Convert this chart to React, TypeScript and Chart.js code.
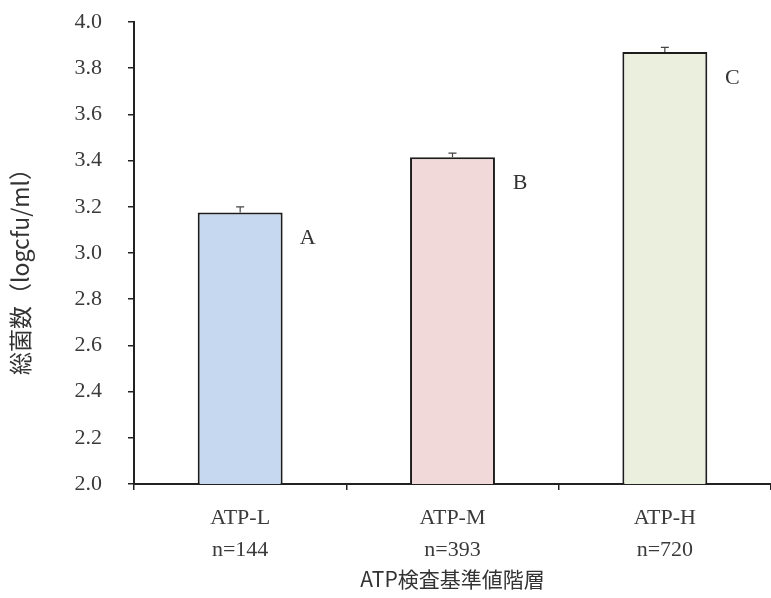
import React, { useEffect, useRef } from "react";
import { Chart, registerables } from "chart.js";

Chart.register(...registerables);

const categories: string[][] = [
  ["ATP-L", "n=144"],
  ["ATP-M", "n=393"],
  ["ATP-H", "n=720"],
];
const means: number[] = [3.175, 3.415, 3.87];
const errors: number[] = [0.025, 0.017, 0.02];
const letters: string[] = ["A", "B", "C"];
const barColors: string[] = ["#c6d8ef", "#f1d9d9", "#ebefdd"];
const yMin = 2.0;
const yMax = 4.0;
const yStep = 0.2;
const yTitle = "総菌数（logcfu/ml）";
const xTitle = "ATP検査基準値階層";

const serif = "'Liberation Serif', 'DejaVu Serif', serif";
const cjk = "'Noto Sans CJK JP', sans-serif";

const errorAndLetters = {
  id: "errorAndLetters",
  afterDatasetsDraw(chart: any) {
    const { ctx, chartArea } = chart;
    const meta = chart.getDatasetMeta(0);
    const yScale = chart.scales.y;
    ctx.save();
    meta.data.forEach((bar: any, i: number) => {
      const top = yScale.getPixelForValue(means[i] + errors[i]);
      ctx.strokeStyle = "#444";
      ctx.lineWidth = 1.2;
      ctx.beginPath();
      ctx.moveTo(bar.x, bar.y);
      ctx.lineTo(bar.x, top);
      ctx.moveTo(bar.x - 4, top);
      ctx.lineTo(bar.x + 4, top);
      ctx.stroke();
      ctx.fillStyle = "#333";
      ctx.font = `22px ${serif}`;
      ctx.textAlign = "center";
      ctx.textBaseline = "middle";
      ctx.fillText(letters[i], bar.x + bar.width / 2 + 25, bar.y + 26);
    });
    ctx.translate(20, (chartArea.top + chartArea.bottom) / 2 + 13);
    ctx.rotate(-Math.PI / 2);
    ctx.font = `23px ${cjk}`;
    ctx.fillStyle = "#333";
    ctx.textAlign = "center";
    ctx.textBaseline = "middle";
    ctx.fillText(yTitle, 0, 0);
    ctx.restore();
  },
};

export default function App() {
  const ref = useRef<HTMLCanvasElement | null>(null);
  useEffect(() => {
    if (!ref.current) return;
    const chart = new Chart(ref.current, {
      type: "bar",
      data: {
        labels: categories,
        datasets: [
          {
            data: means,
            backgroundColor: barColors,
            borderColor: "#1c1c1c",
            borderWidth: 2,
            borderSkipped: false,
            barPercentage: 0.4,
            categoryPercentage: 1,
          },
        ],
      },
      options: {
        animation: false,
        responsive: true,
        maintainAspectRatio: false,
        layout: { padding: { top: 22, left: 0, right: 0, bottom: 0 } },
        plugins: { legend: { display: false }, tooltip: { enabled: false } },
        scales: {
          x: {
            offset: true,
            grid: {
              offset: true,
              drawOnChartArea: false,
              tickLength: 6,
              color: "#222",
              lineWidth: 1.5,
            },
            border: { display: true, color: "#222", width: 2 },
            ticks: {
              color: "#3a3a3a",
              font: { family: serif, size: 22, lineHeight: 1.45 },
              padding: 12,
              maxRotation: 0,
            },
            title: {
              display: true,
              text: xTitle,
              color: "#333",
              font: { family: cjk, size: 21 },
              padding: { top: 0, bottom: 6 },
            },
            afterFit(scale: any) {
              scale.height = 114;
            },
          },
          y: {
            min: yMin,
            max: yMax,
            ticks: {
              stepSize: yStep,
              color: "#3a3a3a",
              font: { family: serif, size: 22 },
              padding: 26,
              callback: (v: any) => Number(v).toFixed(1),
            },
            grid: {
              drawOnChartArea: false,
              tickLength: 6,
              color: "#222",
              lineWidth: 1.5,
            },
            border: { display: true, color: "#222", width: 2 },
            title: { display: false },
            afterFit(scale: any) {
              scale.width = 134;
              scale.paddingTop = 0;
              scale.paddingBottom = 0;
            },
          },
        },
      },
      plugins: [errorAndLetters],
    });
    return () => chart.destroy();
  }, []);
  return (
    <div style={{ position: "fixed", left: 0, top: 0, width: 771, height: 598, background: "#fff" }}>
      <canvas ref={ref} />
    </div>
  );
}
